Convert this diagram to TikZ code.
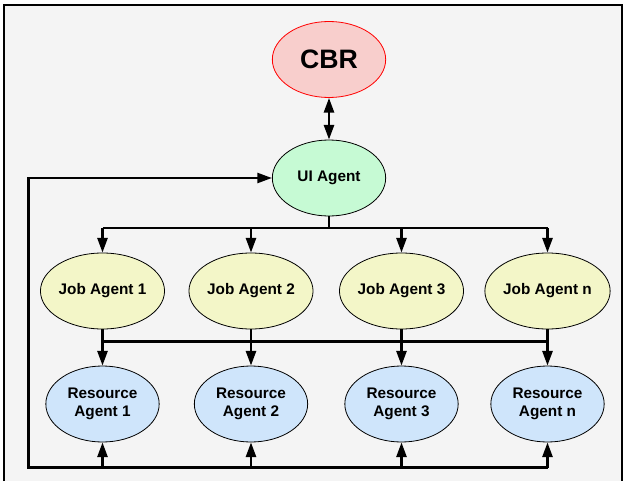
\documentclass[tikz,border=0pt]{standalone}
\usepackage{fontspec}
\setmainfont{Liberation Sans}
\usepackage{tikz}
\usetikzlibrary{shapes.geometric,arrows.meta,positioning,calc}
\usepackage{xcolor}
\definecolor{bggray}{HTML}{F4F4F4}
\definecolor{cbrred}{HTML}{F8CECC}
\definecolor{uigreen}{HTML}{C6FAD4}
\definecolor{jobyellow}{HTML}{F3F6C8}
\definecolor{resblue}{HTML}{CFE5FB}

\begin{document}
\begin{tikzpicture}[x=0.75pt,y=-0.75pt,>={Triangle[length=11pt,width=7.5pt]},
  agent/.style={ellipse,draw=black,line width=0.6pt,minimum width=85pt,minimum height=57pt,
    inner sep=0pt,align=center,font=\bfseries\fontsize{11.5}{14}\selectfont},
  link/.style={line width=1.9pt}]
  \useasboundingbox (0,0) rectangle (623,481);
  % frame
  \fill[bggray] (4,5) rectangle (622,481);
  \draw[line width=0.8pt] (4,481) -- (4,5) -- (622,5) -- (622,481);
  % agents
  \node[agent,fill=cbrred,draw=red,font=\bfseries\fontsize{20}{24}\selectfont] (cbr) at (329,59.5) {CBR};
  \node[agent,fill=uigreen] (ui) at (329,178) {UI Agent};
  \foreach \x/\n in {102.5/1,251/2,401.5/3,547.5/n}{
    \node[agent,fill=jobyellow] (job\n) at (\x,291) {Job Agent \n};
    \node[agent,fill=resblue] (res\n) at (\x,404) {Resource\\Agent \n};
  }
  % CBR <-> UI
  \draw[link,<->] (cbr) -- (ui);
  % UI -> job agents
  \coordinate (busa) at (329,228);
  \draw[link] (ui) -- (busa);
  \draw[link] (job1 |- busa) -- (jobn |- busa);
  \foreach \n in {1,2,3,n}
    \draw[link,->] (job\n |- busa) -- (job\n);
  % job agents -> resource agents
  \coordinate (busb) at (329,341.7);
  \draw[link] (job1 |- busb) -- (jobn |- busb);
  \foreach \n in {1,2,3,n}
    \draw[link,->] (job\n) -- (res\n);
  % feedback loop
  \coordinate (loop) at (28.6,467.7);
  \draw[link,->] (resn |- loop) -- (loop) |- (ui.west);
  \foreach \n in {1,2,3,n}
    \draw[link,->] (res\n |- loop) -- (res\n);
\end{tikzpicture}
\end{document}
